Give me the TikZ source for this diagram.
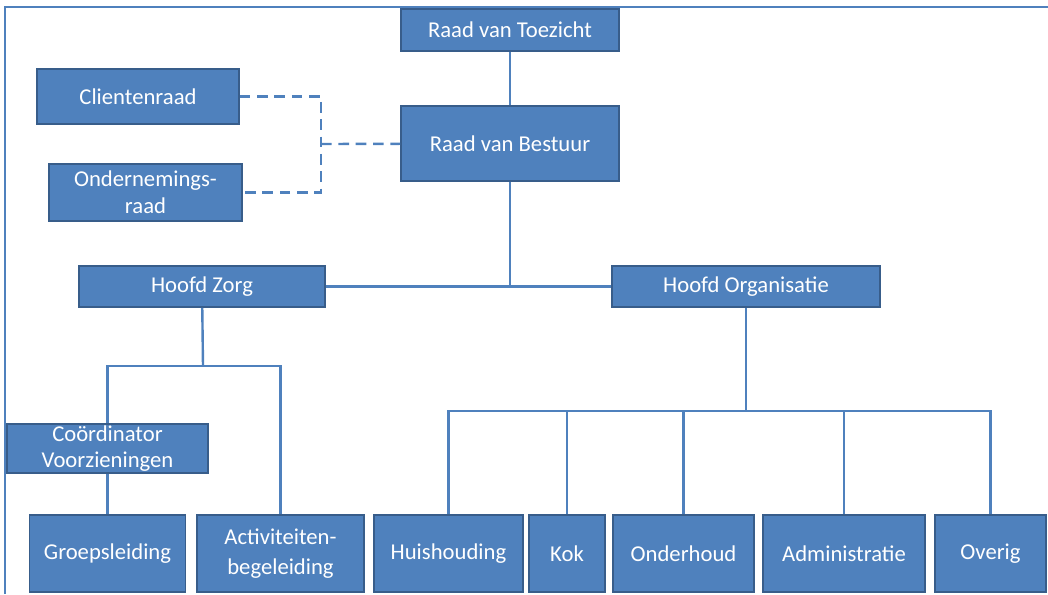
\documentclass[tikz,border=0pt]{standalone}
\usepackage{fontspec}
\setmainfont{Carlito}
\usepackage{tikz}
\usetikzlibrary{positioning,calc}
\definecolor{ofblue}{HTML}{4F81BD}
\definecolor{ofdark}{HTML}{385D8A}

\begin{document}
\begin{tikzpicture}[
  x=0.75pt, y=-0.75pt,
  unit/.style={rectangle, draw=ofdark, fill=ofblue, line width=1.2pt, text=white,
    inner sep=0pt, align=center, font=\fontsize{17}{20}\selectfont},
  link/.style={draw=ofblue, line width=1.8pt},
  dashlink/.style={link, dash pattern=on 8pt off 5pt},
  frame/.style={draw=ofblue, line width=1.5pt}
]
  \useasboundingbox (0,0) rectangle (1048,594);
  \draw[frame] (5,594) -- (5,7) -- (1048,7);

  \node[unit, minimum width=163.5pt, minimum height=31.5pt] (toezicht) at (510,30) {Raad van Toezicht};
  \node[unit, minimum width=163.5pt, minimum height=56pt] (bestuur) at (510,143.5) {Raad van Bestuur};
  \node[unit, minimum width=151.5pt, minimum height=41pt] (client) at (138,96.5) {Clientenraad};
  \node[unit, minimum width=145pt, minimum height=43pt] (ondern) at (145.5,192.5) {Ondernemings-\\raad};
  \node[unit, minimum width=184.5pt, minimum height=31pt] (hzorg) at (202,286.5) {Hoofd Zorg};
  \node[unit, minimum width=201pt, minimum height=31pt] (horg) at (746,286.5) {Hoofd Organisatie};
  \node[unit, minimum width=150.75pt, minimum height=37pt] (coord) at (107.5,448.5) {Coördinator\\Voorzieningen};

  \node[unit, minimum width=117pt, minimum height=58pt] (groep) at (107.5,553.5) {Groepsleiding};
  \node[unit, minimum width=125.25pt, minimum height=58pt] (activ) at (280.5,553.5) {Activiteiten-\\[3pt]begeleiding};
  \node[unit, minimum width=111.75pt, minimum height=58pt] (huis) at (448.5,553.5) {Huishouding};
  \node[unit, minimum width=57pt, minimum height=58pt] (kok) at (567,553.5) {Kok};
  \node[unit, minimum width=105.75pt, minimum height=58pt] (onder) at (683.5,553.5) {Onderhoud};
  \node[unit, minimum width=121.5pt, minimum height=58pt] (admin) at (844,553.5) {Administratie};
  \node[unit, minimum width=83.25pt, minimum height=58pt] (overig) at (990.5,553.5) {Overig};

  \coordinate (dsplit) at (321,144);
  \coordinate (bsplit) at (510,287);
  \coordinate (zsplit) at (203,366);
  \coordinate (osplit) at (746,411);

  \draw[link] (toezicht) -- (bestuur);
  \draw[link] (bestuur) -- (bsplit);
  \draw[link] (hzorg) -- (horg);
  \draw[dashlink] (client) -| (dsplit) |- (ondern);
  \draw[dashlink] (dsplit) -- (bestuur);

  \draw[link] (hzorg) -- (zsplit);
  \draw[link] (coord.north) |- (zsplit) -| (activ.north);
  \draw[link] (coord) -- (groep);

  \draw[link] (horg) -- (osplit);
  \draw[link] (huis.north) |- (osplit) -| (overig.north);
  \foreach \n in {kok,onder,admin}
    \draw[link] (\n.north) -- (\n.north |- osplit);
\end{tikzpicture}
\end{document}
